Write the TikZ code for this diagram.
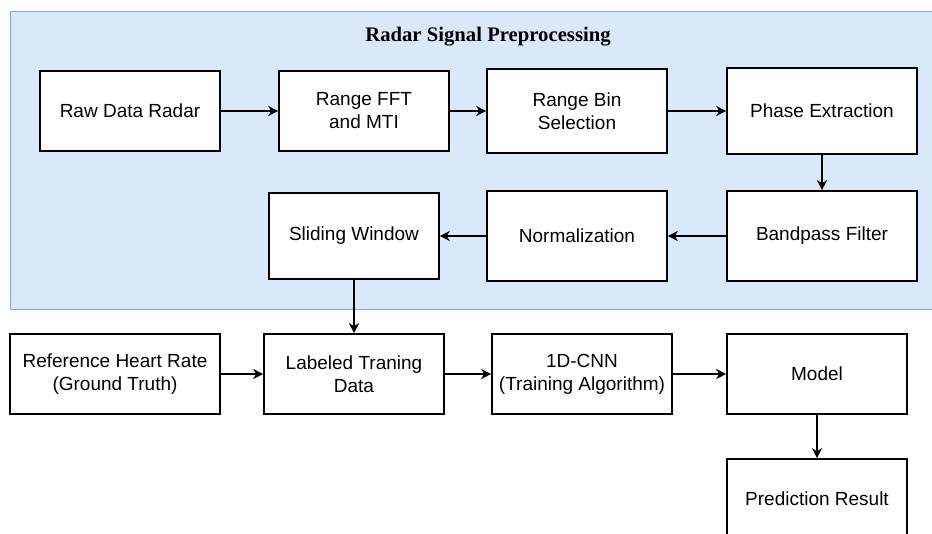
\documentclass[tikz,border=0pt]{standalone}
\usepackage{fontspec}
\setmainfont{Liberation Sans}
\newfontfamily\titlefont{Liberation Serif}
\usetikzlibrary{arrows.meta}
\definecolor{groupfill}{HTML}{DAE8FC}
\definecolor{groupline}{HTML}{7EA6E0}
\tikzset{
  stepbox/.style={draw=black, fill=white, line width=1.6pt, align=center,
    inner sep=0pt, font=\fontsize{19}{23}\selectfont},
  flow/.style={draw=black, line width=1.6pt,
    -{Stealth[length=10pt,width=10pt,inset=3pt]}},
}
\begin{document}
\begin{tikzpicture}[x=1pt,y=1pt]
  \clip (0,-533) rectangle (932,0);
  % preprocessing group
  \node[draw=groupline, fill=groupfill, line width=1.2pt, inner sep=0pt,
        minimum width=926pt, minimum height=298pt, anchor=north west]
        (group) at (10,-11) {};
  \node[font=\titlefont\bfseries\fontsize{20.7}{24}\selectfont] (title) at (488,-37)
        {Radar Signal Preprocessing};

  % radar processing chain
  \node[stepbox, minimum width=180pt, minimum height=80pt] (raw)   at (130,-111) {Raw Data Radar};
  \node[stepbox, minimum width=170pt, minimum height=80pt] (fft)   at (364,-111) {Range FFT\\and MTI};
  \node[stepbox, minimum width=180pt, minimum height=84pt] (bin)   at (577,-111) {Range Bin\\Selection};
  \node[stepbox, minimum width=190pt, minimum height=86pt] (phase) at (822,-111) {Phase Extraction};
  \node[stepbox, minimum width=190pt, minimum height=90pt] (band)  at (822,-236) {Bandpass Filter};
  \node[stepbox, minimum width=180pt, minimum height=90pt] (norm)  at (577,-236) {Normalization};
  \node[stepbox, minimum width=170pt, minimum height=86pt] (slide) at (354,-236) {Sliding Window};

  % training and prediction
  \node[stepbox, minimum width=210pt, minimum height=80pt] (ref)   at (115,-374) {Reference Heart Rate\\(Ground Truth)};
  \node[stepbox, minimum width=180pt, minimum height=80pt] (lab)   at (354,-374) {Labeled Traning\\Data};
  \node[stepbox, minimum width=180pt, minimum height=80pt] (cnn)   at (582,-374) {1D-CNN\\(Training Algorithm)};
  \node[stepbox, minimum width=180pt, minimum height=80pt] (model) at (817,-374) {Model};
  \node[stepbox, minimum width=180pt, minimum height=80pt] (pred)  at (817,-499) {Prediction Result};

  % connectors
  \draw[flow] (raw) -- (fft);
  \draw[flow] (fft) -- (fft -| bin.west);
  \draw[flow] (bin) -- (bin -| phase.west);
  \draw[flow] (phase) -- (band);
  \draw[flow] (band) -- (norm);
  \draw[flow] (norm) -- (slide);
  \draw[flow] (slide) -- (lab);
  \draw[flow] (ref) -- (lab);
  \draw[flow] (lab) -- (cnn);
  \draw[flow] (cnn) -- (model);
  \draw[flow] (model) -- (pred);
\end{tikzpicture}
\end{document}
